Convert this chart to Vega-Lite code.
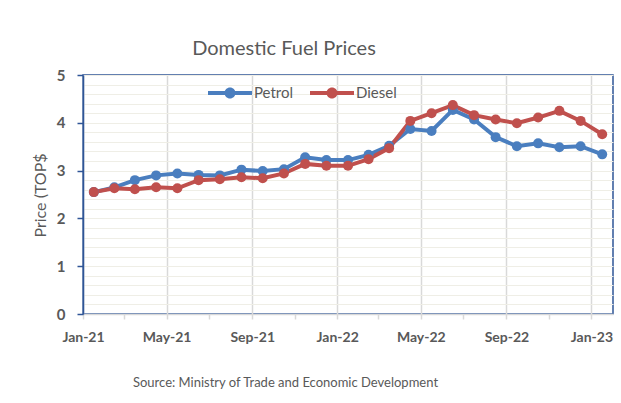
{
  "$schema": "https://vega.github.io/schema/vega-lite/v6.json",
  "width": 530,
  "height": 239,
  "autosize": {"type": "none"},
  "padding": {"left": 83, "top": 75, "right": 8, "bottom": 89},
  "background": "white",
  "title": {
    "text": "Domestic Fuel Prices",
    "anchor": "middle",
    "dx": -64,
    "offset": 9,
    "font": "Lato",
    "fontSize": 20,
    "fontWeight": "normal",
    "color": "#595959"
  },
  "config": {
    "font": "Lato",
    "view": {"stroke": "#2f5597", "strokeWidth": 1.5}
  },
  "data": {
    "values": [
      {"month": "Jan-21", "series": "Petrol", "price": 2.55},
      {"month": "Feb-21", "series": "Petrol", "price": 2.65},
      {"month": "Mar-21", "series": "Petrol", "price": 2.80},
      {"month": "Apr-21", "series": "Petrol", "price": 2.90},
      {"month": "May-21", "series": "Petrol", "price": 2.94},
      {"month": "Jun-21", "series": "Petrol", "price": 2.91},
      {"month": "Jul-21", "series": "Petrol", "price": 2.90},
      {"month": "Aug-21", "series": "Petrol", "price": 3.02},
      {"month": "Sep-21", "series": "Petrol", "price": 2.99},
      {"month": "Oct-21", "series": "Petrol", "price": 3.03},
      {"month": "Nov-21", "series": "Petrol", "price": 3.28},
      {"month": "Dec-21", "series": "Petrol", "price": 3.22},
      {"month": "Jan-22", "series": "Petrol", "price": 3.22},
      {"month": "Feb-22", "series": "Petrol", "price": 3.33},
      {"month": "Mar-22", "series": "Petrol", "price": 3.52},
      {"month": "Apr-22", "series": "Petrol", "price": 3.87},
      {"month": "May-22", "series": "Petrol", "price": 3.83},
      {"month": "Jun-22", "series": "Petrol", "price": 4.27},
      {"month": "Jul-22", "series": "Petrol", "price": 4.07},
      {"month": "Aug-22", "series": "Petrol", "price": 3.70},
      {"month": "Sep-22", "series": "Petrol", "price": 3.51},
      {"month": "Oct-22", "series": "Petrol", "price": 3.57},
      {"month": "Nov-22", "series": "Petrol", "price": 3.49},
      {"month": "Dec-22", "series": "Petrol", "price": 3.51},
      {"month": "Jan-23", "series": "Petrol", "price": 3.34},
      {"month": "Jan-21", "series": "Diesel", "price": 2.55},
      {"month": "Feb-21", "series": "Diesel", "price": 2.63},
      {"month": "Mar-21", "series": "Diesel", "price": 2.61},
      {"month": "Apr-21", "series": "Diesel", "price": 2.65},
      {"month": "May-21", "series": "Diesel", "price": 2.63},
      {"month": "Jun-21", "series": "Diesel", "price": 2.80},
      {"month": "Jul-21", "series": "Diesel", "price": 2.82},
      {"month": "Aug-21", "series": "Diesel", "price": 2.86},
      {"month": "Sep-21", "series": "Diesel", "price": 2.84},
      {"month": "Oct-21", "series": "Diesel", "price": 2.94},
      {"month": "Nov-21", "series": "Diesel", "price": 3.14},
      {"month": "Dec-21", "series": "Diesel", "price": 3.10},
      {"month": "Jan-22", "series": "Diesel", "price": 3.10},
      {"month": "Feb-22", "series": "Diesel", "price": 3.24},
      {"month": "Mar-22", "series": "Diesel", "price": 3.47},
      {"month": "Apr-22", "series": "Diesel", "price": 4.04},
      {"month": "May-22", "series": "Diesel", "price": 4.20},
      {"month": "Jun-22", "series": "Diesel", "price": 4.37},
      {"month": "Jul-22", "series": "Diesel", "price": 4.16},
      {"month": "Aug-22", "series": "Diesel", "price": 4.07},
      {"month": "Sep-22", "series": "Diesel", "price": 3.99},
      {"month": "Oct-22", "series": "Diesel", "price": 4.11},
      {"month": "Nov-22", "series": "Diesel", "price": 4.25},
      {"month": "Dec-22", "series": "Diesel", "price": 4.04},
      {"month": "Jan-23", "series": "Diesel", "price": 3.76}
    ],
    "format": {"parse": {"month": "date:'%b-%y'"}}
  },
  "mark": {
    "type": "line",
    "strokeWidth": 4,
    "point": {"filled": true, "size": 100, "opacity": 1}
  },
  "encoding": {
    "x": {
      "field": "month",
      "type": "temporal",
      "timeUnit": "yearmonth",
      "bandPosition": 0.5,
      "scale": {
        "domain": [
          {"year": 2021, "month": 1, "date": 1},
          {"year": 2023, "month": 2, "date": 1}
        ]
      },
      "axis": {
        "values": [
          {"year": 2021, "month": 1, "date": 1},
          {"year": 2021, "month": 3, "date": 1},
          {"year": 2021, "month": 5, "date": 1},
          {"year": 2021, "month": 7, "date": 1},
          {"year": 2021, "month": 9, "date": 1},
          {"year": 2021, "month": 11, "date": 1},
          {"year": 2022, "month": 1, "date": 1},
          {"year": 2022, "month": 3, "date": 1},
          {"year": 2022, "month": 5, "date": 1},
          {"year": 2022, "month": 7, "date": 1},
          {"year": 2022, "month": 9, "date": 1},
          {"year": 2022, "month": 11, "date": 1},
          {"year": 2023, "month": 1, "date": 1}
        ],
        "labelExpr": "month(datum.value) % 4 == 0 ? timeFormat(datum.value, '%b-%y') : ''",
        "labelOverlap": false,
        "labelFlush": false,
        "labelFont": "Lato",
        "labelFontSize": 14,
        "labelFontWeight": "bold",
        "labelColor": "#595959",
        "labelPadding": 11,
        "domainColor": "#d9d9d9",
        "domainWidth": 1.5,
        "tickColor": "#d9d9d9",
        "tickWidth": 1.5,
        "tickSize": 5,
        "grid": true,
        "gridColor": "#d9d9d9",
        "gridWidth": 1.5,
        "gridOpacity": {"condition": {"test": "month(datum.value) % 4 != 0", "value": 0}, "value": 1},
        "title": "Source: Ministry of Trade and Economic Development",
        "titleFont": "Lato",
        "titleFontSize": 13,
        "titleFontWeight": "normal",
        "titleColor": "#595959",
        "titleX": 202,
        "titleY": 68,
        "titleAlign": "center",
        "titleBaseline": "middle"
      }
    },
    "y": {
      "field": "price",
      "type": "quantitative",
      "scale": {"domain": [0, 5], "nice": false, "zero": true},
      "axis": {
        "values": [0, 0.2, 0.4, 0.6, 0.8, 1, 1.2, 1.4, 1.6, 1.8, 2, 2.2, 2.4, 2.6, 2.8, 3, 3.2, 3.4, 3.6, 3.8, 4, 4.2, 4.4, 4.6, 4.8, 5],
        "labelExpr": "abs(datum.value - round(datum.value)) < 0.01 ? format(datum.value, 'd') : ''",
        "labelOverlap": false,
        "labelFlush": false,
        "labelFont": "Lato",
        "labelFontSize": 15,
        "labelFontWeight": "bold",
        "labelColor": "#595959",
        "labelPadding": 12,
        "domainColor": "#2f5597",
        "domainWidth": 1.5,
        "tickColor": "#2f5597",
        "tickWidth": 1.5,
        "tickSize": 6,
        "tickOpacity": {"condition": {"test": "abs(datum.value - round(datum.value)) > 0.01", "value": 0}, "value": 1},
        "grid": true,
        "gridColor": "#efeee6",
        "gridWidth": 1.2,
        "title": "Price (TOP$",
        "titleFont": "Lato",
        "titleFontSize": 16,
        "titleFontWeight": "normal",
        "titleColor": "#595959",
        "titleAngle": -90,
        "titleX": -43,
        "titleY": 120,
        "titleAlign": "center",
        "titleBaseline": "middle"
      }
    },
    "color": {
      "field": "series",
      "type": "nominal",
      "sort": ["Petrol", "Diesel"],
      "scale": {"domain": ["Petrol", "Diesel"], "range": ["#4a7ebf", "#c0504d"]},
      "legend": {
        "title": null,
        "orient": "none",
        "direction": "horizontal",
        "legendX": 125,
        "legendY": -4,
        "padding": 0,
        "symbolType": "M-1,-0.09L1,-0.09L1,0.09L-1,0.09Z M-0.25,0A0.25,0.25,0,1,1,0.25,0A0.25,0.25,0,1,1,-0.25,0Z",
        "symbolSize": 1936,
        "symbolStrokeWidth": 0,
        "labelOffset": 2,
        "columnPadding": 16,
        "labelFont": "Lato",
        "labelFontSize": 15,
        "labelColor": "#595959",
        "encode": {
          "symbols": {"update": {"fill": {"scale": "color", "field": "value"}, "fillOpacity": {"value": 1}}}
        }
      }
    }
  }
}
